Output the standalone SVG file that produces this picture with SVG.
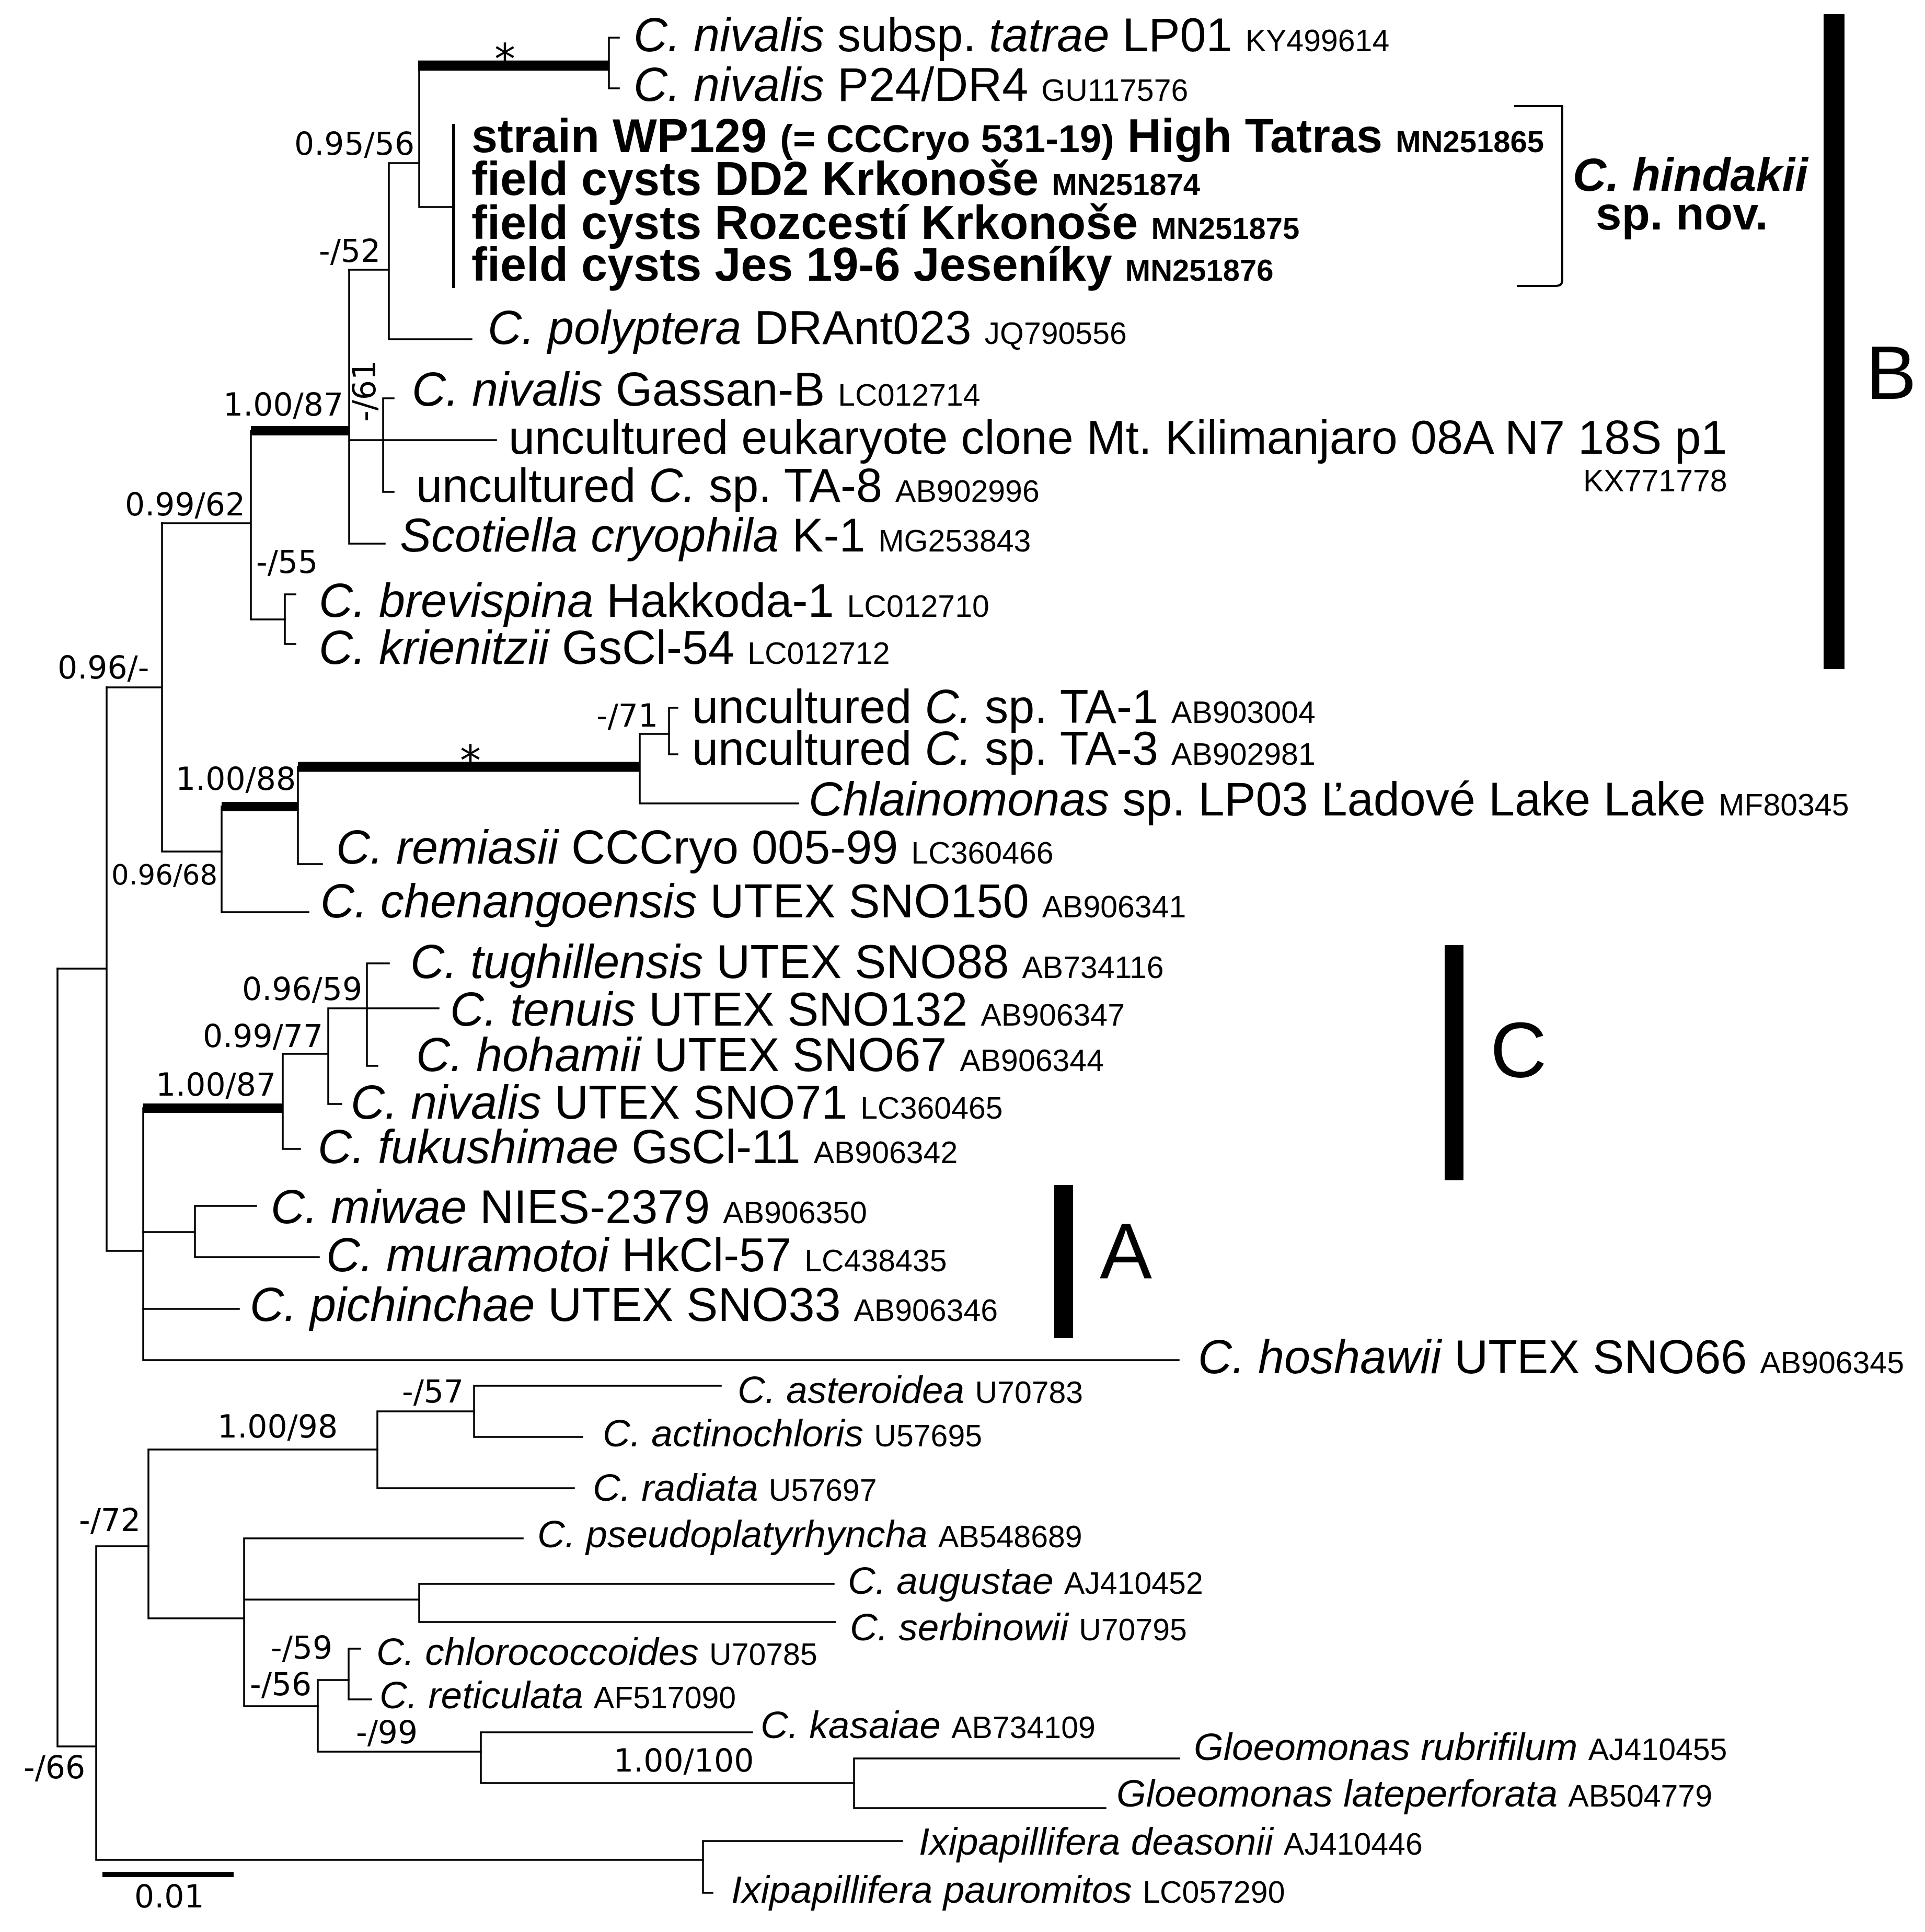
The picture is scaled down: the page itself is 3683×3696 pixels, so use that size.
<svg xmlns="http://www.w3.org/2000/svg" width="3683" height="3696" viewBox="0 0 3683 3696">
<style>
text{font-family:"Liberation Sans",Arial,sans-serif;fill:#000}
.t{font-size:90px}
.s{font-size:73px}
.i{font-style:italic}
.a{font-size:59px;font-style:normal;font-weight:normal}
.ab{font-size:58px}
.bd{font-weight:bold}
.sup{font-family:"DejaVu Sans",Verdana,sans-serif;font-size:60px}
.big{font-size:148px}
.ln{stroke:#000;stroke-width:3.5;fill:none;stroke-linecap:square}
.th{stroke:#000;fill:none}
</style>
<rect width="3683" height="3696" fill="#fff"/>
<g id="connectors">
<path class="th" d="M800 125.5H1165" stroke-width="19.5"/>
<path class="ln" d="M1184 72H1165V169H1184"/>
<path class="ln" d="M802 125V396H868"/>
<path class="th" d="M868 237V551" stroke-width="6"/>
<path class="ln" d="M802 312H744V649H902M668 516H744"/>
<path class="th" d="M480 824H668" stroke-width="18"/>
<path class="ln" d="M668 516V1040H736M668 842H949"/>
<path class="ln" d="M753 762H733V941H753"/>
<path class="ln" d="M310 1001H480M480 824V1185H545"/>
<path class="ln" d="M565 1137H545V1232H565"/>
<path class="ln" d="M204 1315H310M310 1001V1629H424"/>
<path class="ln" d="M424 1543V1745H590"/>
<path class="th" d="M424 1543H570" stroke-width="18"/>
<path class="ln" d="M570 1467V1653H616"/>
<path class="th" d="M570 1467H1224" stroke-width="19"/>
<path class="ln" d="M1280 1404H1224V1537H1527"/>
<path class="ln" d="M1296 1354H1280V1443H1296"/>
<path class="ln" d="M110 1853H204M204 1315V2393H274"/>
<path class="ln" d="M274 2120V2602H2255"/>
<path class="th" d="M274 2120H541" stroke-width="18"/>
<path class="ln" d="M274 2357H373M490 2307H373V2405H610"/>
<path class="ln" d="M274 2504H457"/>
<path class="ln" d="M541 2016V2198H574M541 2016H628"/>
<path class="ln" d="M839 1929H628V2112H653"/>
<path class="ln" d="M744 1843H702V2039H722"/>
<path class="ln" d="M110 1853V3341H184"/>
<path class="ln" d="M184 2958V3558H1345M184 2958H284"/>
<path class="ln" d="M284 2773V3096H467M284 2773H722"/>
<path class="ln" d="M722 2700V2847H1098M722 2700H907"/>
<path class="ln" d="M1379 2651H907V2749H1114"/>
<path class="ln" d="M1000 2943H467V3264H608M467 3060H802"/>
<path class="ln" d="M1595 3030H802V3103H1598"/>
<path class="ln" d="M667 3214H608V3351H920"/>
<path class="ln" d="M689 3154H667V3251H710"/>
<path class="ln" d="M1439 3314H920V3411H1634"/>
<path class="ln" d="M2256 3364H1634V3459H2115"/>
<path class="ln" d="M1726 3522H1345V3621H1363"/>
</g>
<g id="support">
<text class="sup" x="563" y="296">0.95/56</text>
<text class="sup" x="610" y="501">-/52</text>
<text class="sup" x="427" y="795">1.00/87</text>
<text class="sup" transform="translate(718 748) rotate(-90)" text-anchor="middle">-/61</text>
<text class="sup" x="239" y="986">0.99/62</text>
<text class="sup" x="490" y="1096">-/55</text>
<text class="sup" x="110" y="1298">0.96/-</text>
<text class="sup" x="1141" y="1390">-/71</text>
<text class="sup" x="336" y="1511">1.00/88</text>
<text class="sup" x="213" y="1692" style="font-size:53px">0.96/68</text>
<text class="sup" x="463" y="1913">0.96/59</text>
<text class="sup" x="388" y="2003">0.99/77</text>
<text class="sup" x="298" y="2096">1.00/87</text>
<text class="sup" x="769" y="2683">-/57</text>
<text class="sup" x="416" y="2750">1.00/98</text>
<text class="sup" x="151" y="2929">-/72</text>
<text class="sup" x="518" y="3173">-/59</text>
<text class="sup" x="478" y="3243">-/56</text>
<text class="sup" x="681" y="3335">-/99</text>
<text class="sup" x="1174" y="3389">1.00/100</text>
<text class="sup" x="45" y="3402">-/66</text>
<text class="sup" x="966" y="141" text-anchor="middle" style="font-size:80px">*</text>
<text class="sup" x="900" y="1483" text-anchor="middle" style="font-size:80px">*</text>
</g>
<g id="scalebar">
<path class="th" d="M196 3586H447" stroke-width="10"/>
<text class="sup" x="257" y="3649">0.01</text>
</g>
<g id="tip-tatrae"><text class="t" x="1212" y="98"><tspan class="i">C. nivalis</tspan> subsp. <tspan class="i">tatrae</tspan> LP01 <tspan class="a">KY499614</tspan></text></g>
<g id="tip-p24"><text class="t" x="1212" y="193"><tspan class="i">C. nivalis</tspan> P24/DR4 <tspan class="a">GU117576</tspan></text></g>
<g id="tip-wp129"><text class="t bd" x="902" y="291">strain WP129 <tspan style="font-size:74px">(= CCCryo 531-19)</tspan> High Tatras <tspan class="ab">MN251865</tspan></text></g>
<g id="tip-dd2"><text class="t bd" x="902" y="373">field cysts DD2 Krkonoše <tspan class="ab">MN251874</tspan></text></g>
<g id="tip-rozcesti"><text class="t bd" x="902" y="457">field cysts Rozcestí Krkonoše <tspan class="ab">MN251875</tspan></text></g>
<g id="tip-jes"><text class="t bd" x="902" y="537">field cysts Jes 19-6 Jeseníky <tspan class="ab">MN251876</tspan></text></g>
<g id="tip-polyptera"><text class="t" x="933" y="658"><tspan class="i">C. polyptera</tspan> DRAnt023 <tspan class="a">JQ790556</tspan></text></g>
<g id="tip-gassan"><text class="t" x="788" y="776"><tspan class="i">C. nivalis</tspan> Gassan-B <tspan class="a">LC012714</tspan></text></g>
<g id="tip-kilimanjaro"><text class="t" x="973" y="868">uncultured eukaryote clone Mt. Kilimanjaro 08A N7 18S p1</text><text class="a" x="3029" y="940">KX771778</text></g>
<g id="tip-ta8"><text class="t" x="796" y="960">uncultured <tspan class="i">C.</tspan> sp. TA-8 <tspan class="a">AB902996</tspan></text></g>
<g id="tip-scotiella"><text class="t" x="765" y="1055"><tspan class="i">Scotiella cryophila</tspan> K-1 <tspan class="a">MG253843</tspan></text></g>
<g id="tip-brevispina"><text class="t" x="610" y="1180"><tspan class="i">C. brevispina</tspan> Hakkoda-1 <tspan class="a">LC012710</tspan></text></g>
<g id="tip-krienitzii"><text class="t" x="610" y="1270"><tspan class="i">C. krienitzii</tspan> GsCl-54 <tspan class="a">LC012712</tspan></text></g>
<g id="tip-ta1"><text class="t" x="1324" y="1383">uncultured <tspan class="i">C.</tspan> sp. TA-1 <tspan class="a">AB903004</tspan></text></g>
<g id="tip-ta3"><text class="t" x="1324" y="1463">uncultured <tspan class="i">C.</tspan> sp. TA-3 <tspan class="a">AB902981</tspan></text></g>
<g id="tip-chlainomonas"><text class="t" x="1547" y="1560"><tspan class="i">Chlainomonas</tspan> sp. LP03 Ľadové Lake Lake <tspan class="a">MF80345</tspan></text></g>
<g id="tip-remiasii"><text class="t" x="643" y="1652"><tspan class="i">C. remiasii</tspan> CCCryo 005-99 <tspan class="a">LC360466</tspan></text></g>
<g id="tip-chenangoensis"><text class="t" x="613" y="1755"><tspan class="i">C. chenangoensis</tspan> UTEX SNO150 <tspan class="a">AB906341</tspan></text></g>
<g id="tip-tughillensis"><text class="t" x="785" y="1871"><tspan class="i">C. tughillensis</tspan> UTEX SNO88 <tspan class="a">AB734116</tspan></text></g>
<g id="tip-tenuis"><text class="t" x="861" y="1962"><tspan class="i">C. tenuis</tspan> UTEX SNO132 <tspan class="a">AB906347</tspan></text></g>
<g id="tip-hohamii"><text class="t" x="796" y="2049"><tspan class="i">C. hohamii</tspan> UTEX SNO67 <tspan class="a">AB906344</tspan></text></g>
<g id="tip-nivalis71"><text class="t" x="671" y="2140"><tspan class="i">C. nivalis</tspan> UTEX SNO71 <tspan class="a">LC360465</tspan></text></g>
<g id="tip-fukushimae"><text class="t" x="608" y="2225"><tspan class="i">C. fukushimae</tspan> GsCl-11 <tspan class="a">AB906342</tspan></text></g>
<g id="tip-miwae"><text class="t" x="518" y="2340"><tspan class="i">C. miwae</tspan> NIES-2379 <tspan class="a">AB906350</tspan></text></g>
<g id="tip-muramotoi"><text class="t" x="624" y="2432"><tspan class="i">C. muramotoi</tspan> HkCl-57 <tspan class="a">LC438435</tspan></text></g>
<g id="tip-pichinchae"><text class="t" x="478" y="2527"><tspan class="i">C. pichinchae</tspan> UTEX SNO33 <tspan class="a">AB906346</tspan></text></g>
<g id="tip-hoshawii"><text class="t" x="2292" y="2627"><tspan class="i">C. hoshawii</tspan> UTEX SNO66 <tspan class="a">AB906345</tspan></text></g>
<g id="tip-asteroidea"><text class="s" x="1411" y="2684"><tspan class="i">C. asteroidea</tspan> <tspan class="a">U70783</tspan></text></g>
<g id="tip-actinochloris"><text class="s" x="1153" y="2767"><tspan class="i">C. actinochloris</tspan> <tspan class="a">U57695</tspan></text></g>
<g id="tip-radiata"><text class="s" x="1134" y="2871"><tspan class="i">C. radiata</tspan> <tspan class="a">U57697</tspan></text></g>
<g id="tip-pseudoplatyrhyncha"><text class="s" x="1028" y="2960"><tspan class="i">C. pseudoplatyrhyncha</tspan> <tspan class="a">AB548689</tspan></text></g>
<g id="tip-augustae"><text class="s" x="1622" y="3049"><tspan class="i">C. augustae</tspan> <tspan class="a">AJ410452</tspan></text></g>
<g id="tip-serbinowii"><text class="s" x="1626" y="3138"><tspan class="i">C. serbinowii</tspan> <tspan class="a">U70795</tspan></text></g>
<g id="tip-chlorococcoides"><text class="s" x="720" y="3185"><tspan class="i">C. chlorococcoides</tspan> <tspan class="a">U70785</tspan></text></g>
<g id="tip-reticulata"><text class="s" x="726" y="3268"><tspan class="i">C. reticulata</tspan> <tspan class="a">AF517090</tspan></text></g>
<g id="tip-kasaiae"><text class="s" x="1455" y="3325"><tspan class="i">C. kasaiae</tspan> <tspan class="a">AB734109</tspan></text></g>
<g id="tip-rubrifilum"><text class="s" x="2284" y="3367"><tspan class="i">Gloeomonas rubrifilum</tspan> <tspan class="a">AJ410455</tspan></text></g>
<g id="tip-lateperforata"><text class="s" x="2136" y="3456"><tspan class="i">Gloeomonas lateperforata</tspan> <tspan class="a">AB504779</tspan></text></g>
<g id="tip-deasonii"><text class="s" x="1758" y="3548"><tspan class="i">Ixipapillifera deasonii</tspan> <tspan class="a">AJ410446</tspan></text></g>
<g id="tip-pauromitos"><text class="s" x="1399" y="3640"><tspan class="i">Ixipapillifera pauromitos</tspan> <tspan class="a">LC057290</tspan></text></g>
<g id="hindakii-bracket">
<path d="M2897 203H2989V536Q2989 547 2976 547H2902" stroke="#000" stroke-width="4" fill="none"/>
<text class="t bd i" x="3009" y="365" style="font-size:89px">C. hindakii</text>
<text class="t bd" x="3053" y="439" style="font-size:89px">sp. nov.</text>
</g>
<g id="clade-B"><rect x="3489" y="27" width="40" height="1253"/><text class="big" x="3570" y="763" style="font-size:145px">B</text></g>
<g id="clade-C"><rect x="2764" y="1808" width="36" height="450"/><text class="big" x="2851" y="2061" style="font-size:150px">C</text></g>
<g id="clade-A"><rect x="2017" y="2267" width="36" height="293"/><text class="big" x="2104" y="2445" style="font-size:150px">A</text></g>
</svg>
